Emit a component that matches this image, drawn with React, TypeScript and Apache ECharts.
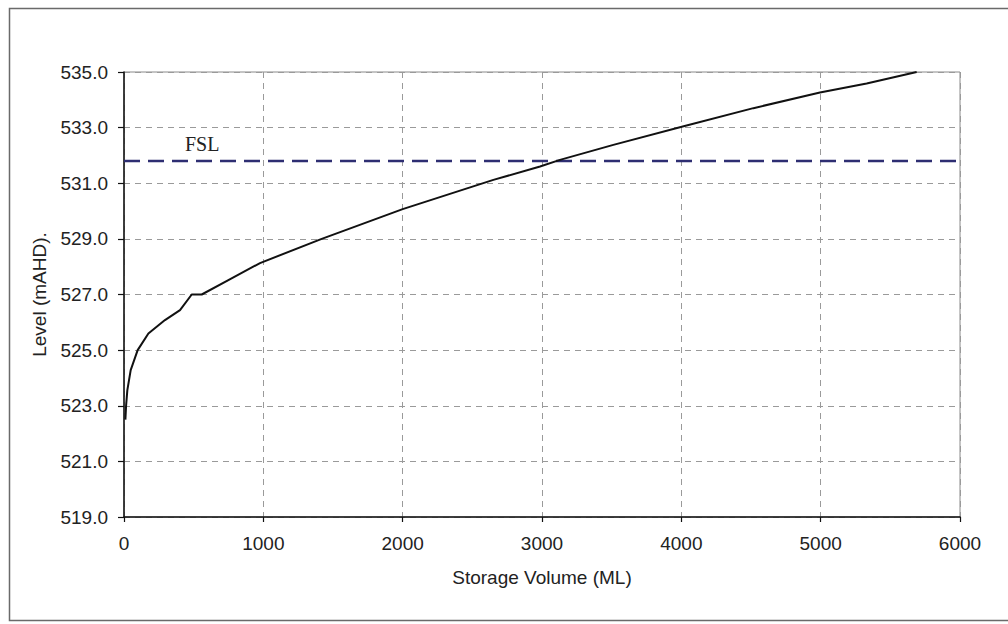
import React, { useEffect, useRef } from "react";
import * as echarts from "echarts";

// Storage curve: volume (ML) vs level (mAHD)
const volumes = [10, 15, 24, 48, 98, 175, 294, 402, 486, 558, 749, 976, 1419, 2000, 2651, 2986, 3129, 3512, 4010, 4517, 4995, 5330, 5689];
const levels = [522.5, 523.0, 523.56, 524.28, 525.0, 525.6, 526.08, 526.44, 527.0, 527.0, 527.52, 528.13, 529.0, 530.07, 531.12, 531.6, 531.84, 532.38, 533.04, 533.7, 534.26, 534.59, 535.0];
const fslLevel = 531.8;
const fslRange = [0, 6000];
const xTicks = [0, 1000, 2000, 3000, 4000, 5000, 6000];
const yTicks = [519, 521, 523, 525, 527, 529, 531, 533, 535];

const FONT = "'Liberation Sans', Arial, sans-serif";

export default function App() {
  const ref = useRef<HTMLDivElement>(null);
  useEffect(() => {
    if (!ref.current) return;
    const chart = echarts.init(ref.current, null, { renderer: "svg" });
    const curve = volumes.map((v, i) => [v, levels[i]]);
    const fsl = fslRange.map((v) => [v, fslLevel]);
    chart.setOption({
      animation: false,
      backgroundColor: "#ffffff",
      grid: {
        left: 124,
        top: 72,
        width: 836,
        height: 445,
        show: true,
        borderColor: "#8a8a8a",
        borderWidth: 1,
        backgroundColor: "transparent",
      },
      xAxis: {
        type: "value",
        min: xTicks[0],
        max: xTicks[xTicks.length - 1],
        interval: 1000,
        name: "Storage Volume (ML)",
        nameLocation: "middle",
        nameGap: 51,
        nameTextStyle: { fontFamily: FONT, fontSize: 19, color: "#222" },
        axisLine: { show: true, onZero: false, lineStyle: { color: "#111", width: 1.5 } },
        axisTick: { show: true, length: 5, inside: false, lineStyle: { color: "#111", width: 1.2 } },
        axisLabel: {
          fontFamily: FONT,
          fontSize: 19,
          color: "#222",
          margin: 17,
          formatter: (v: number) => String(v),
        },
        splitLine: { show: true, lineStyle: { color: "#9a9a9a", type: [6, 5], width: 1 } },
      },
      yAxis: {
        type: "value",
        min: yTicks[0],
        max: yTicks[yTicks.length - 1],
        interval: 2,
        name: "Level (mAHD).",
        nameLocation: "middle",
        nameGap: 75,
        nameRotate: 90,
        nameTextStyle: { fontFamily: FONT, fontSize: 19, color: "#222" },
        axisLine: { show: true, onZero: false, lineStyle: { color: "#111", width: 1.5 } },
        axisTick: { show: true, length: 6, inside: false, lineStyle: { color: "#111", width: 1.2 } },
        axisLabel: {
          fontFamily: FONT,
          fontSize: 19,
          color: "#222",
          margin: 16,
          formatter: (v: number) => v.toFixed(1),
        },
        splitLine: { show: true, lineStyle: { color: "#9a9a9a", type: [6, 5], width: 1 } },
      },
      graphic: [
        {
          type: "rect",
          shape: { x: 9.5, y: 8.5, width: 1010, height: 612 },
          style: { fill: "none", stroke: "#6a6a6a", lineWidth: 1.5 },
          silent: true,
        },
        {
          type: "text",
          x: 185,
          y: 134,
          style: {
            text: "FSL",
            font: "20px 'Liberation Serif', 'Times New Roman', serif",
            fill: "#222",
          },
          silent: true,
        },
      ],
      series: [
        {
          name: "FSL",
          type: "line",
          data: fsl,
          showSymbol: false,
          symbol: "none",
          lineStyle: { color: "#2e2e72", width: 2.5, type: [16, 8] },
          z: 3,
        },
        {
          name: "Storage",
          type: "line",
          data: curve,
          showSymbol: false,
          symbol: "none",
          smooth: false,
          lineStyle: { color: "#111", width: 2 },
          z: 4,
        },
      ],
    });
    return () => chart.dispose();
  }, []);
  return <div ref={ref} style={{ position: "fixed", left: 0, top: 0, width: 1008, height: 624 }} />;
}
